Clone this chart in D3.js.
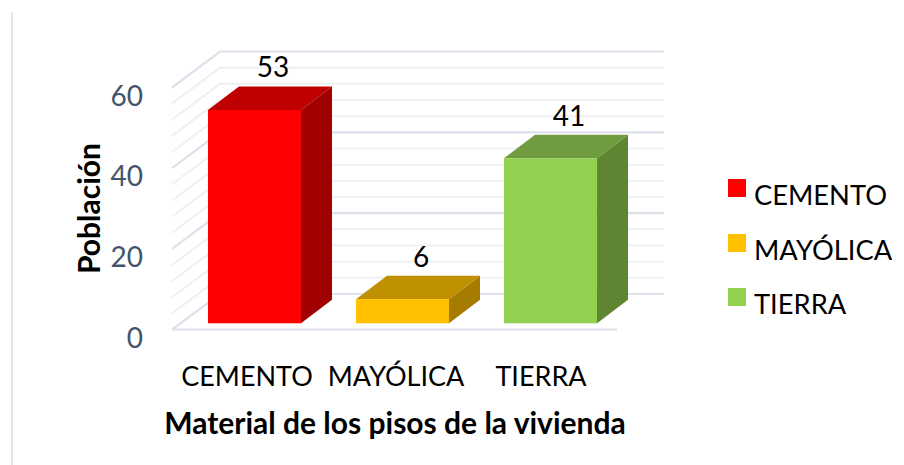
<!DOCTYPE html>
<html><head><meta charset="utf-8">
<script src="https://cdn.jsdelivr.net/npm/d3@7"></script>
<style>html,body{margin:0;padding:0;background:#fff}svg{display:block}text{font-family:Lato,Carlito,sans-serif}</style>
</head><body><div id="c"></div>
<script>
const categories = ["CEMENTO","MAYÓLICA","TIERRA"];
const values = [53,6,41];
const frontColors = ["#FF0000","#FFC000","#92D050"];
const topColors = ["#BF0000","#BF9000","#6F9C3F"];
const sideColors = ["#A00000","#A67C00","#5F8432"];
const yTicks = [0,20,40,60];
const gridTicks = d3.range(0,61,4);
const xTitle = "Material de los pisos de la vivienda";
const yTitle = "Población";

const W=904,H=465;
const svg=d3.select("#c").append("svg").attr("width",W).attr("height",H);
svg.append("line").attr("x1",12).attr("x2",12).attr("y1",12).attr("y2",465).attr("stroke","#E2E6EE").attr("stroke-width",2);

const x=d3.scaleBand().domain(categories).range([172,633]).paddingInner(0.3716).paddingOuter(0.243);
const yFront=d3.scaleLinear().domain([0,60]).range([329.5,87.5]);
const yBack=d3.scaleLinear().domain([0,60]).range([294,51.5]);
const yBar=d3.scaleLinear().domain([0,60]).range([323.3,81.8]);
const wallDx=48, barDx=31, barDy=23.5;
const grid=svg.append("g");
gridTicks.forEach(t=>{
  const major=t%20===0;
  const c=major?"#DDE1EA":"#EEF0F4", w=major?2.2:2;
  grid.append("path").attr("fill","none").attr("stroke",c).attr("stroke-width",w)
    .attr("d",d3.line()([[172,yFront(t)],[172+wallDx,yBack(t)],[664,yBack(t)]]));
});
grid.append("line").attr("x1",172).attr("x2",617).attr("y1",yFront(0)).attr("y2",yFront(0)).attr("stroke","#DDE1EA").attr("stroke-width",2.2);

const bw=x.bandwidth();
const line=d3.line();
categories.forEach((c,i)=>{
  const l=x(c), r=l+bw, t=yBar(values[i]), b=yBar(0);
  svg.append("path").attr("fill",sideColors[i]).attr("d",line([[r,t],[r+barDx,t-barDy],[r+barDx,b-barDy],[r,b]])+"Z");
  svg.append("path").attr("fill",topColors[i]).attr("d",line([[l,t],[l+barDx,t-barDy],[r+barDx,t-barDy],[r,t]])+"Z");
  svg.append("rect").attr("x",l).attr("y",t).attr("width",bw).attr("height",b-t).attr("fill",frontColors[i]);
  svg.append("text").attr("x",l+bw/2+barDx/2+3).attr("y",t-barDy-9).attr("text-anchor","middle").attr("font-size",28).attr("fill","#000").text(values[i]);
  svg.append("text").attr("x",[247,396,541][i]).attr("y",386).attr("text-anchor","middle").attr("font-size",27).attr("fill","#000").text(c);
});
yTicks.forEach(t=>{
  svg.append("text").attr("x",143).attr("y",yFront(t)+18).attr("text-anchor","end").attr("font-size",28).attr("fill","#44546A").text(t);
});
svg.append("text").attr("transform","translate(100,208.5) rotate(-90)").attr("text-anchor","middle").attr("font-size",30).attr("font-weight",700).attr("fill","#000").text(yTitle);
svg.append("text").attr("x",395).attr("y",434).attr("text-anchor","middle").attr("font-size",30).attr("font-weight",700).attr("fill","#000").text(xTitle);
const legendY=[188,243,297];
categories.forEach((c,i)=>{
  svg.append("rect").attr("x",728).attr("y",legendY[i]-9).attr("width",18).attr("height",18).attr("fill",frontColors[i]);
  svg.append("text").attr("x",754).attr("y",legendY[i]+17).attr("font-size",27.3).attr("fill","#000").text(c);
});
</script></body></html>
